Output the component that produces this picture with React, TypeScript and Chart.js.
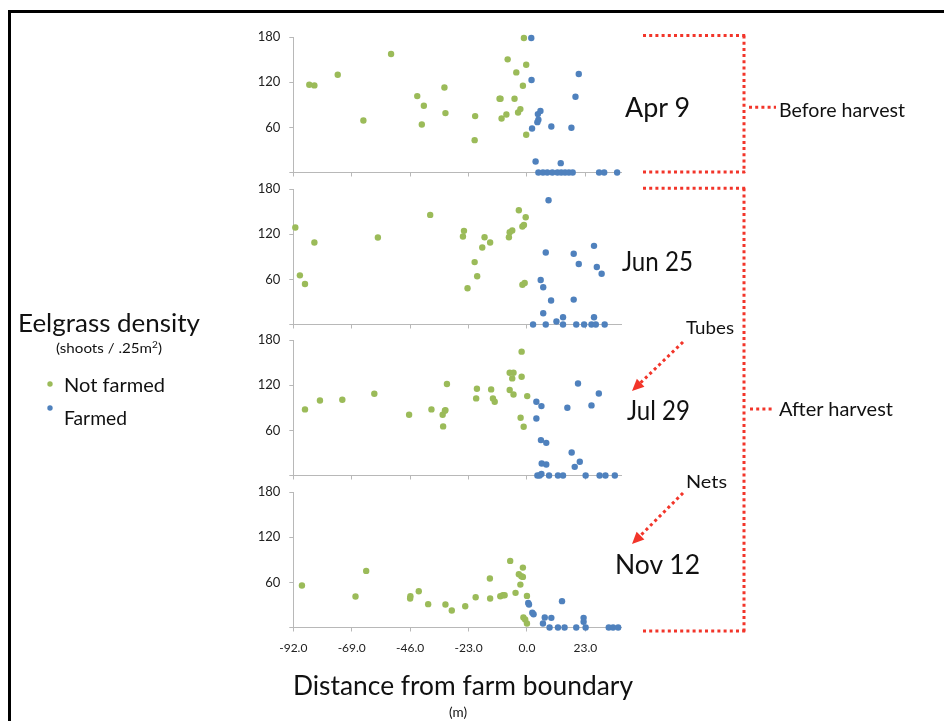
import React, { useEffect, useRef } from "react";
import { Chart, registerables } from "chart.js";

Chart.register(...registerables);

// ---------- data ----------
const X_TICKS = [-92, -69, -46, -23, 0, 23];
const Y_TICKS = [0, 60, 120, 180];
const X_MIN = -92;
const X_MAX = 37.3;
const Y_MIN = 0;
const Y_MAX = 180;
const SERIES = ["Not farmed", "Farmed"];
const DATES = ["Apr 9", "Jun 25", "Jul 29", "Nov 12"];

const APR9_NOT_FARMED: [number, number][] = [
  [-85.7, 116.6], [-83.7, 115.7], [-74.5, 129.9], [-64.4, 69.1], [-53.5, 157.4],
  [-43.2, 101.5], [-40.6, 88.7], [-41.4, 63.8], [-32.5, 113], [-32.1, 78.9],
  [-20.4, 74.9], [-20.6, 43], [-10.8, 98], [-10.4, 98], [-10.0, 71.8],
  [-8.1, 77.1], [-7.6, 150.3], [-4.9, 98], [-4.2, 133], [-3.5, 79.8],
  [-2.6, 84.2], [-1.6, 115.2], [-1.2, 178.6], [-0.3, 143.2], [-0.3, 50.1],
];
const APR9_FARMED: [number, number][] = [
  [1.7, 178.6], [1.8, 122.8], [2.0, 58.5], [4.3, 77.6], [5.3, 81.6], [4.5, 70],
  [4.1, 66.9], [9.6, 61.2], [3.4, 14.6], [13.3, 12.4], [17.5, 59.4], [19.1, 100.6],
  [20.4, 130.8], [4.5, 0], [6.3, 0], [8.0, 0], [10.0, 0], [12.0, 0], [13.5, 0],
  [15.0, 0], [16.5, 0], [18.0, 0], [28.4, 0], [30.4, 0], [35.5, 0],
];
const JUN25_NOT_FARMED: [number, number][] = [
  [-91.2, 128.8], [-89.4, 65.3], [-87.4, 53.8], [-83.7, 109], [-58.7, 115.6],
  [-38.1, 145.6], [-25.2, 116.9], [-24.8, 124.4], [-23.4, 48.1], [-20.6, 82.9],
  [-19.6, 64], [-17.6, 102.3], [-16.7, 116], [-14.5, 109], [-7.1, 116],
  [-6.8, 122.6], [-5.8, 124.8], [-3.2, 151.7], [-1.8, 130.1], [-1.2, 132.3],
  [-0.5, 142.5], [-1.8, 52.9], [-0.9, 55.1],
];
const JUN25_FARMED: [number, number][] = [
  [8.5, 165], [7.4, 95.7], [5.4, 59.1], [6.4, 49.4], [9.5, 31.8], [6.4, 15],
  [18.4, 94], [20.4, 80.3], [18.4, 33.1], [26.4, 104.5], [27.5, 76.3], [29.4, 67.5],
  [11.6, 4], [14.2, 9.7], [26.4, 9.7], [2.4, 0], [7.4, 0], [14.2, 0], [19.4, 0],
  [22.5, 0], [25.4, 0], [27.1, 0], [30.6, 0],
];
const JUL29_NOT_FARMED: [number, number][] = [
  [-87.4, 87.8], [-81.5, 99.7], [-72.7, 100.6], [-60.1, 108.6], [-46.4, 80.7],
  [-37.6, 87.8], [-33.2, 80.7], [-32.3, 86], [-32.1, 86.9], [-33, 65.2],
  [-31.5, 121.5], [-20, 102.4], [-19.7, 115.2], [-14.1, 114.4], [-13.4, 102.4],
  [-12.7, 98], [-6.8, 113.5], [-5.3, 107.7], [-6.8, 136.5], [-5.3, 136.5],
  [-5.8, 129], [-2.1, 164.5], [-2.1, 131.2], [-2.5, 76.7], [-1.3, 64.7], [0.1, 105.5],
];
const JUL29_FARMED: [number, number][] = [
  [3.7, 98], [5.7, 92.2], [3.7, 75.8], [5.5, 47], [7.6, 43.4], [5.8, 16], [7.6, 14.6],
  [15.9, 90], [20.1, 122.3], [25.4, 93.1], [28.3, 109], [17.6, 30.6], [18.8, 11.5],
  [20.8, 18.2], [4.1, 0], [5.0, 0], [5.7, 2], [8.7, 0], [12.2, 0], [14.2, 0],
  [23.1, 0], [28.6, 0], [30.9, 0], [34.6, 0],
];
const NOV12_NOT_FARMED: [number, number][] = [
  [-88.6, 55.7], [-67.5, 41.1], [-63.3, 75.2], [-46, 38.5], [-45.9, 41.6],
  [-42.6, 48.2], [-38.9, 31], [-32.1, 30.5], [-29.6, 22.6], [-24.3, 28.3],
  [-20.2, 40.2], [-14.5, 38.5], [-14.6, 65], [-10.5, 41.6], [-9.5, 42.9],
  [-8.8, 42.9], [-6.6, 88.5], [-4.5, 46], [-3.2, 70.8], [-2.2, 68.1], [-1.6, 79.6],
  [-1.6, 67.2], [-2.6, 57], [0, 42], [-1.4, 13.3], [-0.7, 10.6], [0, 5.3],
];
const NOV12_FARMED: [number, number][] = [
  [0.5, 32.7], [0.8, 30.5], [2.1, 19.5], [2.6, 17.7], [7, 13.3], [9.6, 12.8],
  [6.3, 5.3], [13.8, 35], [22.3, 12.8], [22.3, 7.5], [8.9, 0], [12.2, 0], [14.8, 0],
  [19.4, 0], [23.1, 0], [32.2, 0], [33.9, 0], [35.9, 0],
];

const PANEL_DATA = [
  { notFarmed: APR9_NOT_FARMED, farmed: APR9_FARMED },
  { notFarmed: JUN25_NOT_FARMED, farmed: JUN25_FARMED },
  { notFarmed: JUL29_NOT_FARMED, farmed: JUL29_FARMED },
  { notFarmed: NOV12_NOT_FARMED, farmed: NOV12_FARMED },
];

// ---------- style / layout ----------
const GREEN = "#9bbb59";
const BLUE = "#4f81bd";
const RED = "#f2352a";
const AXIS = "#b8b8b8";
const FONT = "Lato, 'Open Sans', sans-serif";
const PANEL_TOPS = [37.3, 189, 340.3, 491.7];
const PLOT_H = 135.5;
const PAD_TOP = 12;
const CANVAS_LEFT = 240;
const CANVAS_W = 400;
const Y_AXIS_W = 53.3;
const PAD_RIGHT = 18.3;

function Panel({ idx }: { idx: number }) {
  const ref = useRef<HTMLCanvasElement>(null);
  const showLabels = idx === 3;
  const bottomH = showLabels ? 32.5 : 8.5;
  const h = Math.round(PAD_TOP + PLOT_H + bottomH);
  useEffect(() => {
    const d = PANEL_DATA[idx];
    const gridOpts = { drawOnChartArea: false, drawTicks: true, tickLength: 4, color: AXIS, lineWidth: 1 };
    const chart = new Chart(ref.current as HTMLCanvasElement, {
      type: "scatter",
      data: {
        datasets: [
          {
            label: SERIES[1],
            data: d.farmed.map(([x, y]) => ({ x, y })),
            backgroundColor: BLUE,
            pointBackgroundColor: BLUE,
            pointRadius: 3.2,
            pointBorderWidth: 0,
            clip: false as any,
          },
          {
            label: SERIES[0],
            data: d.notFarmed.map(([x, y]) => ({ x, y })),
            backgroundColor: GREEN,
            pointBackgroundColor: GREEN,
            pointRadius: 3.2,
            pointBorderWidth: 0,
            clip: false as any,
          },
        ],
      },
      options: {
        animation: false,
        responsive: false,
        maintainAspectRatio: false,
        devicePixelRatio: 1,
        layout: { padding: { top: PAD_TOP, right: PAD_RIGHT, bottom: 0, left: 0 } },
        plugins: { legend: { display: false }, tooltip: { enabled: false } },
        scales: {
          x: {
            type: "linear",
            min: X_MIN,
            max: X_MAX,
            afterBuildTicks: (s: any) => {
              s.ticks = X_TICKS.map((v) => ({ value: v }));
            },
            afterFit: (s: any) => {
              s.height = bottomH;
              s.paddingLeft = 0;
              s.paddingRight = 0;
              s.paddingTop = 0;
              s.paddingBottom = 0;
            },
            grid: gridOpts,
            border: { display: true, color: AXIS, width: 1 },
            ticks: {
              display: showLabels,
              padding: 9,
              maxRotation: 0,
              autoSkip: false,
              color: "#222",
              font: { family: FONT, size: 12 },
              callback: (v: any) => Number(v).toFixed(1),
            },
          },
          y: {
            type: "linear",
            min: Y_MIN,
            max: Y_MAX,
            afterBuildTicks: (s: any) => {
              s.ticks = Y_TICKS.map((v) => ({ value: v }));
            },
            afterFit: (s: any) => {
              s.width = Y_AXIS_W;
              s.paddingLeft = 0;
              s.paddingRight = 0;
              s.paddingTop = 0;
              s.paddingBottom = 0;
            },
            grid: gridOpts,
            border: { display: true, color: AXIS, width: 1 },
            ticks: {
              padding: 9,
              color: "#222",
              font: { family: FONT, size: 13 },
              callback: (v: any) => (Number(v) === 0 ? "" : String(v)),
            },
          },
        },
      } as any,
    });
    return () => chart.destroy();
  }, [idx]);
  return (
    <canvas
      ref={ref}
      width={CANVAS_W}
      height={h}
      style={{ position: "absolute", left: CANVAS_LEFT, top: PANEL_TOPS[idx] - PAD_TOP, width: CANVAS_W, height: h }}
    />
  );
}

function DottedLine({ x1, y1, x2, y2 }: { x1: number; y1: number; x2: number; y2: number }) {
  return <line x1={x1} y1={y1} x2={x2} y2={y2} stroke={RED} strokeWidth={3} strokeDasharray="3 3.2" />;
}

function Arrow({ x1, y1, x2, y2 }: { x1: number; y1: number; x2: number; y2: number }) {
  const dx = x2 - x1;
  const dy = y2 - y1;
  const len = Math.hypot(dx, dy);
  const ux = dx / len;
  const uy = dy / len;
  const hl = 12;
  const hw = 5.5;
  const bx = x2 - ux * hl;
  const by = y2 - uy * hl;
  const px = -uy;
  const py = ux;
  return (
    <g>
      <line x1={x1} y1={y1} x2={bx + ux * 2} y2={by + uy * 2} stroke={RED} strokeWidth={3} strokeDasharray="3 3.2" />
      <polygon points={`${x2},${y2} ${bx + px * hw},${by + py * hw} ${bx - px * hw},${by - py * hw}`} fill={RED} />
    </g>
  );
}

function Txt(props: { x: number; y: number; size: number; w?: number; anchor?: string; children: any; fill?: string }) {
  const { x, y, size, w, anchor, children, fill } = props;
  return (
    <text
      x={x}
      y={y}
      fontSize={size}
      fontFamily={FONT}
      fill={fill || "#111"}
      textAnchor={anchor || "start"}
      {...(w ? { textLength: w, lengthAdjust: "spacingAndGlyphs" } : {})}
    >
      {children}
    </text>
  );
}

export default function App() {
  return (
    <div
      style={{
        position: "absolute",
        left: 0,
        top: 0,
        width: 944,
        height: 721,
        background: "#fff",
        overflow: "hidden",
        fontFamily: FONT,
      }}
    >
      {/* frame */}
      <div style={{ position: "absolute", left: 8, top: 9.5, width: 960, height: 740, borderTop: "3px solid #000", borderLeft: "3px solid #000" }} />
      {PANEL_DATA.map((_, i) => (
        <Panel key={i} idx={i} />
      ))}
      <svg width={944} height={721} style={{ position: "absolute", left: 0, top: 0, pointerEvents: "none" }}>
        {/* left legend */}
        <Txt x={18} y={332} size={25} w={182}>Eelgrass density</Txt>
        <text x={56} y={353} fontSize={13.5} fontFamily={FONT} fill="#111" textLength={106} lengthAdjust="spacingAndGlyphs">
          (shoots / .25m<tspan dy={-5} fontSize={9}>2</tspan>
          <tspan dy={5}>)</tspan>
        </text>
        <circle cx={50} cy={384} r={2.7} fill={GREEN} />
        <Txt x={64} y={392} size={19} w={101}>{SERIES[0]}</Txt>
        <circle cx={50} cy={408} r={2.7} fill={BLUE} />
        <Txt x={64} y={425} size={19} w={63}>{SERIES[1]}</Txt>

        {/* dates */}
        <Txt x={625} y={117} size={26} w={65}>{DATES[0]}</Txt>
        <Txt x={622} y={271} size={26} w={71}>{DATES[1]}</Txt>
        <Txt x={627} y={420} size={26} w={63}>{DATES[2]}</Txt>
        <Txt x={615} y={574} size={26} w={85}>{DATES[3]}</Txt>

        {/* brackets */}
        <DottedLine x1={643} y1={35.5} x2={745.5} y2={35.5} />
        <DottedLine x1={744} y1={35.5} x2={744} y2={173} />
        <DottedLine x1={643} y1={172} x2={745.5} y2={172} />
        <DottedLine x1={749} y1={107.3} x2={776} y2={107.3} />
        <Txt x={779} y={117} size={18.5} w={126}>Before harvest</Txt>

        <DottedLine x1={643} y1={188.3} x2={745.5} y2={188.3} />
        <DottedLine x1={744} y1={188.3} x2={744} y2={632.5} />
        <DottedLine x1={643} y1={631} x2={745.5} y2={631} />
        <DottedLine x1={750} y1={409} x2={774} y2={409} />
        <Txt x={779} y={416} size={18.5} w={114}>After harvest</Txt>

        {/* arrows */}
        <Txt x={686} y={334} size={18} w={48}>Tubes</Txt>
        <Arrow x1={683} y1={342} x2={632} y2={391} />
        <Txt x={686} y={488} size={18} w={41}>Nets</Txt>
        <Arrow x1={683} y1={493} x2={632} y2={544} />

        {/* axis title */}
        <Txt x={293} y={695} size={27} w={340}>Distance from farm boundary</Txt>
        <Txt x={449} y={717} size={14} w={18}>(m)</Txt>
      </svg>
    </div>
  );
}
